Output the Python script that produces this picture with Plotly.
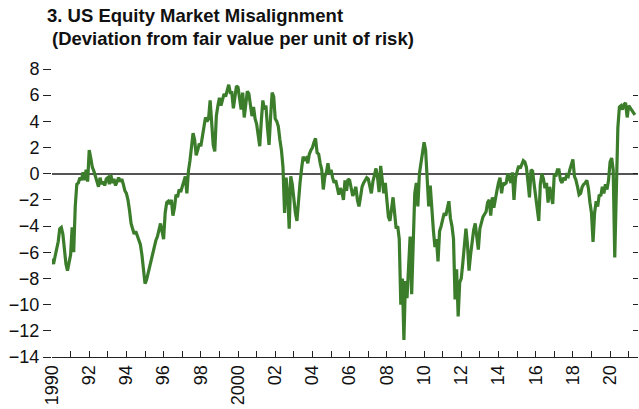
import plotly.graph_objects as go

start_year = 1990
vals_1990s = [
    -6.5, -6.9, -6.3, -5.8, -5.2, -4.2, -4.1, -4.6, -5.8, -6.9, -7.4, -6.8,
    -6.2, -4.1, -6.0, -2.5, -0.8, -0.7, -0.3, -0.5, 0.1, -0.5, 0.3, -0.6,
    1.8, 1.2, 0.5, 0.2, -0.2, -0.4, -1.0, -0.3, -0.8, -0.6, -0.9, -0.4,
    -0.3, -0.8, -0.1, -0.7, -0.4, -0.9, -0.5, -0.3, -0.6, -0.4, -0.8, -1.3,
    -1.5, -2.0, -2.8, -3.8, -4.2, -4.6, -4.4, -4.8, -5.0, -5.4, -6.2, -7.4,
    -8.4, -8.1, -7.6, -7.0, -6.6, -6.0, -5.4, -5.1, -4.8, -4.4, -3.8, -4.4,
    -5.0, -3.0, -2.2, -2.1, -2.3, -2.0, -3.2, -2.6, -1.6, -1.8, -1.2, -1.4,
    -1.0, -0.6, -0.2, -1.5, 0.2, 1.0, 2.2, 3.1, 2.6, 1.4, 1.8, 2.3,
    2.1, 2.8, 3.6, 4.3, 4.0, 4.2, 5.6, 3.9, 2.2, 1.7, 4.4, 5.2,
    5.8, 5.2, 5.8, 6.1, 5.9, 6.3, 6.8, 6.2, 6.2, 5.0, 6.1, 6.7,
]
vals_2000s = [
    6.6, 5.7, 4.9, 6.2, 4.3, 5.3, 6.3, 6.1, 5.2, 4.4, 5.1, 4.2,
    3.8, 2.9, 2.1, 4.0, 5.6, 4.9, 5.2, 3.5, 2.2, 4.3, 6.2, 5.9,
    4.2, 4.0, 3.6, 2.6, 1.8, 0.5, -3.0, -0.3, -1.5, -4.2, -0.2, -0.8,
    -2.0, -3.0, -3.6, -1.8, -0.7, 0.4, 1.3, 1.1, 1.2, 0.8, 1.5, 1.8,
    2.0, 2.4, 2.7, 1.6, 1.5, 0.8, 0.3, -1.2, -0.2, 0.1, 0.8, 0.0,
    0.3, -0.3, -0.7, -0.5, -1.2, -1.6, -1.1, -1.4, -2.0, -0.5, -1.3, -0.4,
    -0.5, -1.1, -1.7, -1.4, -1.0, -2.0, -2.5, -1.8, -1.0, -0.7, -0.5, -0.3,
    -0.4, -1.1, -1.5, -0.6, -0.1, 0.4, -0.3, -1.4, 0.6, -0.6, -1.5, -0.7,
    -2.0, -3.3, -3.6, -2.6, -1.8, -3.0, -4.2, -4.0, -5.0, -10.0, -8.0, -12.7,
    -8.2, -9.5, -7.0, -4.8, -9.2, -4.5, -1.5, -0.7, -2.5, 0.0, 0.9, 1.7,
]
vals_2010s = [
    2.4, 1.8, -0.8, -2.5, -0.9, -3.0, -4.3, -5.6, -5.0, -6.7, -4.4, -4.0,
    -3.6, -3.0, -3.2, -2.5, -2.1, -3.4, -4.0, -5.0, -9.6, -7.3, -10.9, -8.3,
    -8.0, -6.8, -5.6, -4.2, -5.4, -7.4, -6.2, -5.2, -4.3, -3.8, -4.8, -5.8,
    -4.2, -3.6, -3.3, -3.1, -2.9, -2.2, -2.0, -3.2, -1.8, -2.6, -1.8, -1.3,
    -0.7, -0.3, -1.5, -0.7, -0.8, -0.7, 0.0, -0.3, -0.7, 0.1, -2.0, -0.3,
    0.3, 0.6, 0.4, 0.8, 1.0, 0.9, 0.5, -0.6, -1.8, 0.3, 0.2, -0.8,
    -1.6, -2.8, -3.6, -0.8, 0.0, -0.4, -1.1, -0.7, -2.2, -1.0, -1.7, -2.3,
    0.0, -0.2, 0.3, 0.3, -0.5, -0.7, -0.3, -0.5, -0.1, -0.2, 0.3, 0.8,
    1.1, -0.2, -0.5, -1.0, -1.6, -1.5, -1.0, -0.8, -0.7, -0.5, -1.1, -2.2,
    -3.0, -5.2, -3.0, -2.1, -2.5, -1.6, -1.7, -1.0, -1.5, -0.8, -1.2, -0.5,
]
vals_2020s = [
    0.9, 1.2, 0.3, -6.4, -1.5, 3.5, 5.1, 5.2, 4.9, 5.3, 5.4, 4.3,
    5.2, 5.0, 4.9, 4.6, 4.5,
]

values = vals_1990s + vals_2000s + vals_2010s + vals_2020s
x = [start_year + i / 12 for i in range(len(values))]

tick_years = list(range(1990, 2022))
tick_text = []
for yr in tick_years:
    if yr % 2:
        tick_text.append("")
    elif yr % 100 == 0 or yr == 1990:
        tick_text.append(str(yr))
    else:
        tick_text.append(f"{yr % 100:02d}")

y_ticks = list(range(-14, 9, 2))

fig = go.Figure()
fig.add_trace(go.Scatter(x=x, y=values, mode="lines",
                         line=dict(color="#3b7d2b", width=3.2), showlegend=False))
# right-side axis ticks only
fig.add_trace(go.Scatter(x=[x[0]], y=[values[0]], yaxis="y2", mode="lines",
                         showlegend=False, hoverinfo="skip", opacity=0))

tick_font = dict(family="Liberation Sans", size=18, color="#111")
fig.update_layout(
    width=639, height=409,
    margin=dict(l=52, r=1, t=69, b=52),
    paper_bgcolor="white", plot_bgcolor="white",
    xaxis=dict(range=[1990, 2021.5], tickmode="array", tickvals=tick_years,
               ticktext=tick_text, ticks="inside", ticklen=6, tickwidth=1,
               tickcolor="#222", tickangle=-90, showgrid=False, zeroline=False,
               showline=True, linecolor="#222", linewidth=1.2, tickfont=tick_font),
    yaxis=dict(range=[-14, 8], tickmode="array", tickvals=y_ticks,
               ticks="outside", ticklen=8, tickwidth=1.2, tickcolor="#222",
               showgrid=False, zeroline=True, zerolinecolor="#555",
               zerolinewidth=1.5, showline=False, tickfont=tick_font),
    yaxis2=dict(range=[-14, 8], overlaying="y", side="right", tickmode="array",
                tickvals=y_ticks, ticks="inside", ticklen=5, tickwidth=1.2,
                tickcolor="#222", showticklabels=False, showgrid=False,
                zeroline=False, showline=False),
)

title_font = dict(family="Liberation Sans", size=18.5, color="#111")
fig.add_annotation(text="<b>3. US Equity Market Misalignment</b>", xref="paper", yref="paper",
                   x=(45 - 52) / 586, y=1 + (69 - 28) / 288, xanchor="left", yanchor="bottom",
                   showarrow=False, font=title_font)
fig.add_annotation(text="<b>(Deviation from fair value per unit of risk)</b>", xref="paper", yref="paper",
                   x=(50 - 52) / 586, y=1 + (69 - 51) / 288, xanchor="left", yanchor="bottom",
                   showarrow=False, font=title_font)

fig.write_html("out.html", config={"displayModeBar": False},
               post_script="document.body.style.margin='0';document.body.style.padding='0';")
